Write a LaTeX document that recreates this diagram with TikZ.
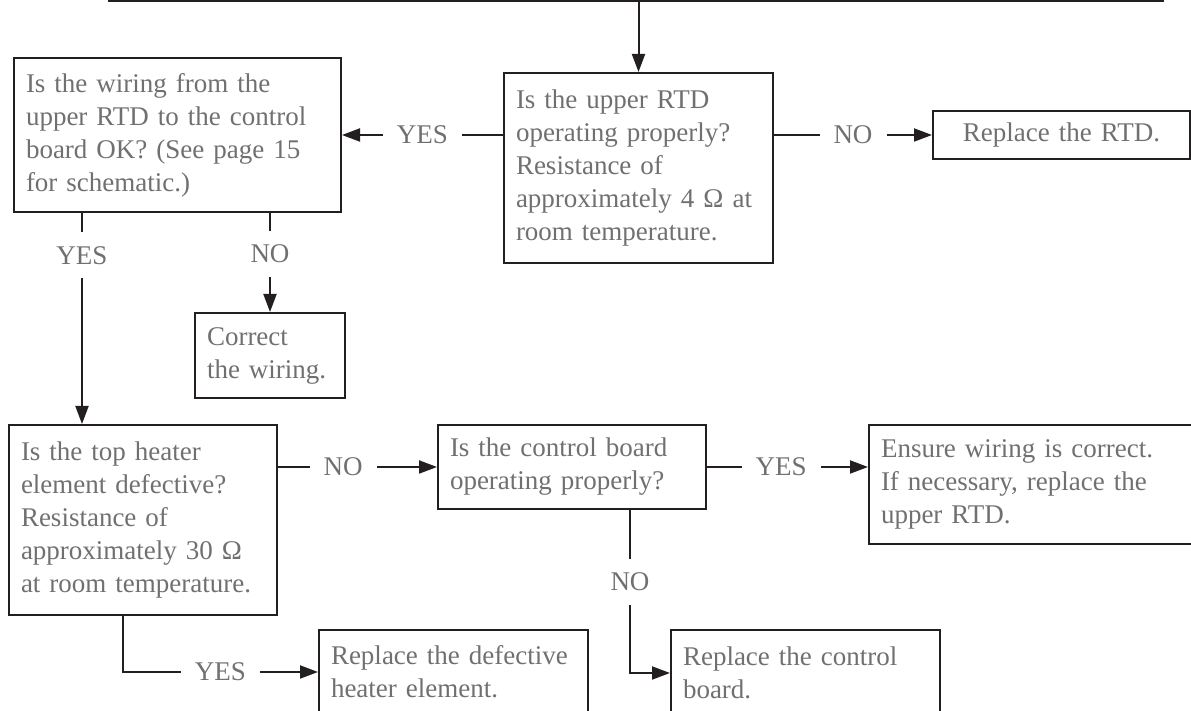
\documentclass[tikz,border=0pt]{standalone}
\usepackage{fontspec}
\setmainfont{Liberation Serif}
\usepackage{xcolor}
\usepackage{tikz}
\usetikzlibrary{positioning,calc,arrows.meta}

\definecolor{linegray}{RGB}{35,31,32}
\definecolor{txtgray}{RGB}{112,112,114}

\newcommand{\flowfont}{\fontsize{13.5}{16.5}\selectfont\hyphenpenalty=10000}

\tikzset{
    box/.style={draw=linegray, line width=1pt, text=txtgray, align=left, anchor=north west,
        inner xsep=6pt, inner ysep=0pt, font=\flowfont},
    lbl/.style={fill=white, text=txtgray, inner xsep=7pt, inner ysep=7pt, font=\flowfont},
    flow/.style={draw=linegray, line width=1pt, -{Triangle[length=9pt,width=6.5pt]}}
}

\begin{document}
\begin{tikzpicture}[x=0.5pt, y=-0.5pt]
            \useasboundingbox (0,0) rectangle (1191,711);

            % Boxes (top row)
            \node[box, minimum width=163.5pt, minimum height=77pt, text width=151.5pt] (wiring) at (13,57)
                {Is the wiring from the\\upper RTD to the control\\board OK? (See page 15\\for schematic.)};
            \node[box, minimum width=134.5pt, minimum height=95pt, text width=122.5pt] (rtdok) at (503,72)
                {Is the upper RTD\\operating properly?\\Resistance of\\approximately 4 Ω at\\room temperature.};
            \node[box, align=center, minimum width=128.5pt, minimum height=24pt, text width=116.5pt] (replrtd) at (932,110)
                {Replace the RTD.};
            \node[box, minimum width=75pt, minimum height=42.5pt, text width=63pt] (wirfix) at (194,312)
                {Correct\\the wiring.};

            % Boxes (lower rows)
            \node[box, minimum width=134pt, minimum height=95pt, text width=122pt] (heater) at (8,424)
                {Is the top heater\\element defective?\\Resistance of\\approximately 30 Ω\\at room temperature.};
            \node[box, minimum width=134pt, minimum height=42pt, text width=122pt] (ctrlok) at (437,424)
                {Is the control board\\operating properly?};
            \node[box, minimum width=170pt, minimum height=59.5pt, text width=158pt] (ensure) at (868,424)
                {Ensure wiring is correct.\\If necessary, replace the\\upper RTD.};
            \node[box, minimum width=134.5pt, minimum height=42pt, text width=122.5pt] (replheat) at (318,629)
                {Replace the defective\\heater element.};
            \node[box, minimum width=134.5pt, minimum height=43pt, text width=122.5pt] (replctrl) at (670,629)
                {Replace the control\\board.};

            % Incoming line
            \coordinate (inL) at (108,1);
            \coordinate (inR) at (1164,1);
            \draw[linegray, line width=1pt] (inL) -- (inR);
            \draw[flow] (rtdok.north |- inL) -- (rtdok.north);

            % Connectors
            \draw[flow] (rtdok.west |- wiring.east) -- node[lbl]{YES} (wiring.east);
            \draw[flow] (rtdok.east |- replrtd.west) -- node[lbl]{NO} (replrtd.west);

            \coordinate (wyes) at ($(wiring.south west)+(69,0)$);
            \draw[flow] (wyes) -- node[lbl, pos=.2]{YES} (wyes |- heater.north);
            \draw[flow] (wirfix.north |- wiring.south) -- node[lbl, pos=.41]{NO} (wirfix.north);

            \draw[flow] (heater.east |- ctrlok.west) -- node[lbl, pos=.41]{NO} (ctrlok.west);
            \draw[flow] (ctrlok.east) -- node[lbl, pos=.46]{YES} (ctrlok.east -| ensure.west);

            \coordinate (hyes) at ($(heater.south west)+(115,0)$);
            \draw[flow] (hyes) |- node[lbl, pos=.75]{YES} (replheat.west);
            \coordinate (cno) at ($(ctrlok.south west)+(193,0)$);
            \draw[flow] (cno) |- node[lbl, pos=.22]{NO} (replctrl.west);
\end{tikzpicture}
\end{document}
